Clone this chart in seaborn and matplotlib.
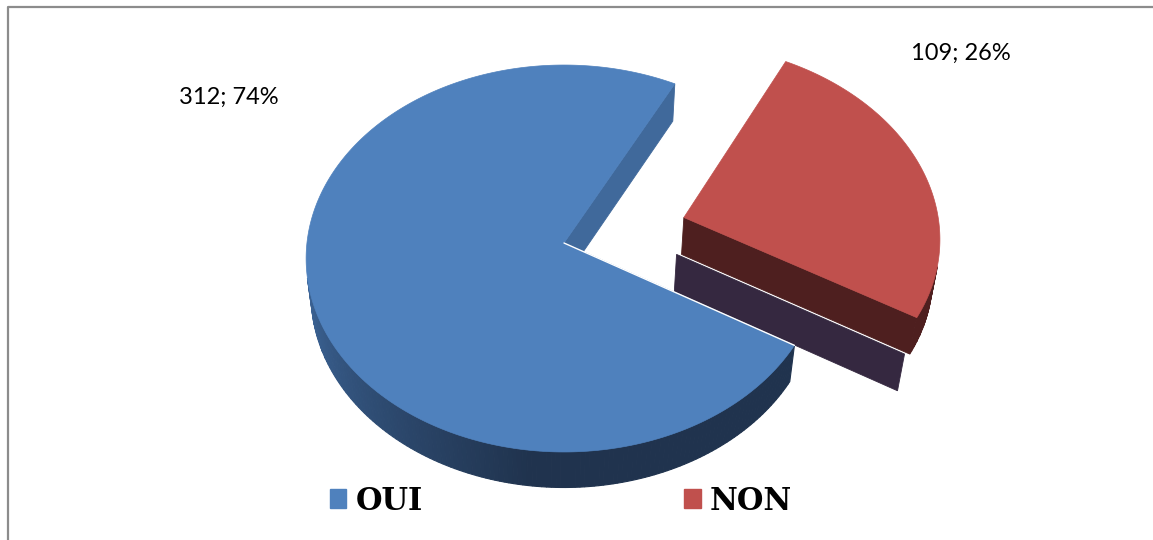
import numpy as np
import seaborn as sns
import matplotlib
matplotlib.use("Agg")
import matplotlib.pyplot as plt
from matplotlib.patches import Patch

# data
labels = ["OUI", "NON"]
counts = [312, 109]
start_angle = 62.5          # degrees, OUI starts here and runs counterclockwise
explode = [0.0, 0.49]       # NON is pulled out

sns.set_theme(style="white")
colors = sns.color_palette(["#4F81BD", "#C0504D"])

# simple perspective camera for the 3d pie
phi = np.radians(48.4)
D, F = 8.29, 2131.0
cx, cy = 564.0, 243.0
h = 0.22
cam = np.array([0.0, -D * np.cos(phi), D * np.sin(phi)])


def project(X, Y, Z):
    X, Y, Z = np.broadcast_arrays(np.asarray(X, float), np.asarray(Y, float), np.asarray(Z, float))
    depth = Y * np.cos(phi) - Z * np.sin(phi) + D
    up = Y * np.sin(phi) + Z * np.cos(phi)
    return cx + F * X / depth, cy - F * up / depth


def visible(point, normal):
    return np.dot(cam - point, normal) > 0


fig = plt.figure(figsize=(11.53, 5.40), dpi=100)
ax = fig.add_axes([0, 0, 1, 1])
ax.set_xlim(0, 1153)
ax.set_ylim(540, 0)
ax.axis("off")

# chart border (only top and left are inside the picture)
ax.plot([8, 8, 1153], [540, 7, 7], color="#8c8c8c", lw=1.6, solid_capstyle="butt")

total = sum(counts)
spans = [360.0 * c / total for c in counts]
bounds = []
a = start_angle
for s in spans:
    bounds.append((a, a + s))
    a += s

rim_light = np.array([0.24, 0.40, 0.60])
rim_dark = np.array([0.125, 0.200, 0.305])
side_colors = {"OUI": "#40699B", "NON": "#4E1F1F"}
rim_colors = {"NON": "#4E1F1F"}


def draw_face(t_deg, ox, oy, z0, z1, color, dx=0.0):
    t = np.radians(t_deg)
    X = np.array([ox, ox + np.cos(t), ox + np.cos(t), ox]) + dx
    Y = np.array([oy, oy + np.sin(t), oy + np.sin(t), oy])
    Z = np.array([z0, z0, z1, z1])
    sx, sy = project(X, Y, Z)
    ax.fill(sx, sy, color=color, lw=0.6, ec=color)


for i in [1, 0]:
    a0, a1 = bounds[i]
    mid = np.radians((a0 + a1) / 2)
    ox, oy = explode[i] * np.cos(mid), explode[i] * np.sin(mid)
    name = labels[i]

    # outer rim
    ts = np.linspace(a0, a1, int(abs(a1 - a0)) + 2)
    for ta, tb in zip(ts[:-1], ts[1:]):
        tm = np.radians((ta + tb) / 2)
        p = np.array([ox + np.cos(tm), oy + np.sin(tm), -h / 2])
        if not visible(p, np.array([np.cos(tm), np.sin(tm), 0.0])):
            continue
        if name == "OUI":
            s = np.clip(((ta + tb) / 2 - 188) / 75, 0, 1)
            c = (1 - s) * rim_light + s * rim_dark
        else:
            c = rim_colors[name]
        tt = np.radians([ta, tb, tb, ta])
        sx, sy = project(ox + np.cos(tt), oy + np.sin(tt), [0, 0, -h, -h])
        ax.fill(sx, sy, color=c, lw=0.8, ec=c)

    # radial cut faces
    for t_deg, sign in [(a0, -1), (a1, 1)]:
        t = np.radians(t_deg)
        n = np.array([np.cos(t + sign * np.pi / 2), np.sin(t + sign * np.pi / 2), 0.0])
        p = np.array([ox + 0.5 * np.cos(t), oy + 0.5 * np.sin(t), -h / 2])
        if not visible(p, n):
            continue
        if name == "NON":
            draw_face(t_deg, ox, oy, -h, -2.05 * h, "#352840", dx=-0.02)
        draw_face(t_deg, ox, oy, 0, -h, side_colors[name])

    # top face
    tt = np.radians(np.linspace(a0, a1, 400))
    sx, sy = project(np.r_[ox, ox + np.cos(tt)], np.r_[oy, oy + np.sin(tt)], 0)
    ax.fill(sx, sy, color=colors[i], lw=0.5, ec=colors[i])

    if name == "OUI":
        t = np.radians(a1)
        sx, sy = project([0, np.cos(t)], [0, np.sin(t)], 0)
        ax.plot(sx, sy, color="white", lw=1.0)

# data labels
label_pos = [(229, 97), (961, 53)]
for (x, y), c in zip(label_pos, counts):
    ax.text(x, y, f"{c}; {round(100 * c / total)}%", ha="center", va="center",
            fontsize=17, family="Lato", color="black")

handles = [Patch(facecolor=c, edgecolor=c) for c in colors]
ax.legend(handles, labels, loc="center", bbox_to_anchor=(561, 501),
          bbox_transform=ax.transData, ncol=2, frameon=False,
          prop=dict(family="DejaVu Serif", weight="bold", size=22),
          labelcolor="black", handlelength=0.55, handleheight=0.55,
          handletextpad=0.3, columnspacing=8.55)

fig.savefig("out.png", dpi=100)
